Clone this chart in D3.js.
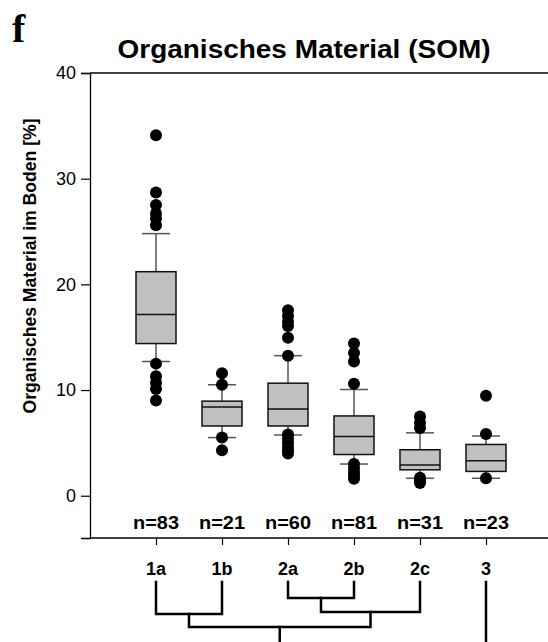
<!DOCTYPE html>
<html>
<head>
<meta charset="utf-8">
<script src="https://cdn.jsdelivr.net/npm/d3@7"></script>
<style>
  html, body { margin: 0; padding: 0; background: #fff; }
  svg { display: block; }
  text { font-family: "Liberation Sans", Arial, sans-serif; }
</style>
</head>
<body>
<svg id="chart" width="548" height="642"></svg>
<script>
// Soil organic matter per site group
const groups      = ["1a", "1b", "2a", "2b", "2c", "3"];
const counts      = [83, 21, 60, 81, 31, 23];
const q1          = [14.4, 6.6, 6.6, 3.9, 2.45, 2.3];
const medians     = [17.15, 8.4, 8.2, 5.6, 2.9, 3.3];
const q3          = [21.2, 8.95, 10.65, 7.55, 4.35, 4.85];
const whiskerLow  = [12.7, 5.5, 5.75, 3.0, 1.65, 1.65];
const whiskerHigh = [24.8, 10.5, 13.25, 10.05, 5.95, 5.65];
const outliers = [
  [34.1, 28.7, 27.5, 26.7, 26.2, 25.6, 12.5, 11.3, 10.7, 10.1, 9.0],
  [11.6, 10.5, 5.5, 4.3],
  [17.55, 17.0, 16.5, 16.05, 14.95, 13.25, 5.8, 5.4, 5.0, 4.6, 4.3, 4.0],
  [14.4, 13.5, 12.7, 10.6, 3.0, 2.6, 2.2, 1.9, 1.6],
  [7.5, 6.9, 6.4, 1.7, 1.45, 1.2],
  [9.45, 5.85, 1.65]
];
const yTicks = [0, 10, 20, 30, 40];

// Cluster tree joining the groups (merge levels)
const merges = [
  { a: "2a", b: "2b", id: "A", h: 1.07 },
  { a: "A",  b: "2c", id: "B", h: 2.0 },
  { a: "1a", b: "1b", id: "C", h: 2.13 },
  { a: "C",  b: "B",  id: "D", h: 3.0 }
];
const treeRootLevel = 4;

const svg = d3.select("#chart");

const x = d3.scaleLinear().domain([0, 7]).range([90, 552]);
const y = d3.scaleLinear().domain([-4, 40]).range([538, 73]);
const pos = i => x(i + 1);

// Panel letter and title
svg.append("text")
  .attr("x", 12).attr("y", 42)
  .style("font-family", "'Liberation Serif', 'Times New Roman', serif")
  .style("font-weight", "bold").style("font-size", "40px")
  .text("f");

svg.append("text")
  .attr("x", 304).attr("y", 58)
  .attr("text-anchor", "middle")
  .attr("textLength", 373).attr("lengthAdjust", "spacingAndGlyphs")
  .style("font-weight", "bold").style("font-size", "26px")
  .text("Organisches Material (SOM)");

// Top frame line
svg.append("line")
  .attr("x1", x(0)).attr("x2", 548).attr("y1", y(40)).attr("y2", y(40))
  .attr("stroke", "#000").attr("stroke-width", 1.3);

// Y axis
const yAxis = d3.axisLeft(y).tickValues(yTicks).tickSize(9).tickPadding(5);
const gy = svg.append("g").attr("transform", `translate(${x(0)},0)`).call(yAxis);
gy.select(".domain").attr("stroke", "#000").attr("stroke-width", 1.3);
gy.selectAll(".tick line").attr("stroke", "#000").attr("stroke-width", 1.2);
gy.selectAll(".tick text")
  .style("font-family", "'Liberation Sans', Arial, sans-serif")
  .style("font-size", "18px").attr("fill", "#000");

svg.append("text")
  .attr("transform", `translate(36,266) rotate(-90)`)
  .attr("text-anchor", "middle")
  .attr("textLength", 295).attr("lengthAdjust", "spacingAndGlyphs")
  .style("font-weight", "bold").style("font-size", "18px")
  .text("Organisches Material im Boden [%]");

// X axis along the bottom
const xAxis = d3.axisBottom(x)
  .tickValues(groups.map((g, i) => i + 1))
  .tickSize(7).tickFormat("");
const gx = svg.append("g").attr("transform", `translate(0,${y(-4)})`).call(xAxis);
gx.select(".domain").attr("d", `M${x(0)},0H548`).attr("stroke", "#000").attr("stroke-width", 1.3);
gx.selectAll(".tick line").attr("stroke", "#000").attr("stroke-width", 1.2);

// Box plots
const boxW = 40, capW = 28;
const boxes = svg.append("g");
groups.forEach((g, i) => {
  const cx = pos(i);
  const grp = boxes.append("g");
  // whiskers
  grp.append("line")
    .attr("x1", cx).attr("x2", cx)
    .attr("y1", y(q3[i])).attr("y2", y(whiskerHigh[i]))
    .attr("stroke", "#555").attr("stroke-width", 1.5);
  grp.append("line")
    .attr("x1", cx).attr("x2", cx)
    .attr("y1", y(q1[i])).attr("y2", y(whiskerLow[i]))
    .attr("stroke", "#555").attr("stroke-width", 1.5);
  [whiskerHigh[i], whiskerLow[i]].forEach(v => {
    grp.append("line")
      .attr("x1", cx - capW / 2).attr("x2", cx + capW / 2)
      .attr("y1", y(v)).attr("y2", y(v))
      .attr("stroke", "#555").attr("stroke-width", 1.5);
  });
  // box
  grp.append("rect")
    .attr("x", cx - boxW / 2).attr("width", boxW)
    .attr("y", y(q3[i])).attr("height", y(q1[i]) - y(q3[i]))
    .attr("fill", "#c0c0c0").attr("stroke", "#111").attr("stroke-width", 1.5);
  grp.append("line")
    .attr("x1", cx - boxW / 2).attr("x2", cx + boxW / 2)
    .attr("y1", y(medians[i])).attr("y2", y(medians[i]))
    .attr("stroke", "#111").attr("stroke-width", 1.5);
  // outliers
  grp.selectAll("circle").data(outliers[i]).join("circle")
    .attr("cx", cx).attr("cy", d => y(d)).attr("r", 6)
    .attr("fill", "#000");
});

// Sample sizes
svg.append("g").selectAll("text").data(counts).join("text")
  .attr("x", (d, i) => pos(i)).attr("y", 529)
  .attr("text-anchor", "middle")
  .attr("textLength", 46).attr("lengthAdjust", "spacingAndGlyphs")
  .style("font-weight", "bold").style("font-size", "18px")
  .text(d => "n=" + d);

// Group labels
svg.append("g").selectAll("text").data(groups).join("text")
  .attr("x", (d, i) => pos(i)).attr("y", 575)
  .attr("text-anchor", "middle")
  .style("font-weight", "bold").style("font-size", "18px")
  .text(d => d);

// Dendrogram below the labels
const hy = d3.scaleLinear().domain([0, treeRootLevel]).range([582, 642]);
const nodes = {};
groups.forEach((g, i) => { nodes[g] = { x: pos(i), h: 0 }; });
const tree = svg.append("g")
  .attr("fill", "none").attr("stroke", "#000").attr("stroke-width", 2.5)
  .attr("stroke-linecap", "square");
merges.forEach(m => {
  const a = nodes[m.a], b = nodes[m.b];
  tree.append("path")
    .attr("d", `M${a.x},${hy(a.h)}V${hy(m.h)}H${b.x}V${hy(b.h)}`);
  nodes[m.id] = { x: (a.x + b.x) / 2, h: m.h };
});
const root = nodes["D"];
tree.append("path").attr("d", `M${root.x},${hy(root.h)}V${hy(treeRootLevel) + 2}`);
tree.append("path").attr("d", `M${nodes["3"].x},${hy(0)}V${hy(treeRootLevel) + 2}`);
</script>
</body>
</html>
